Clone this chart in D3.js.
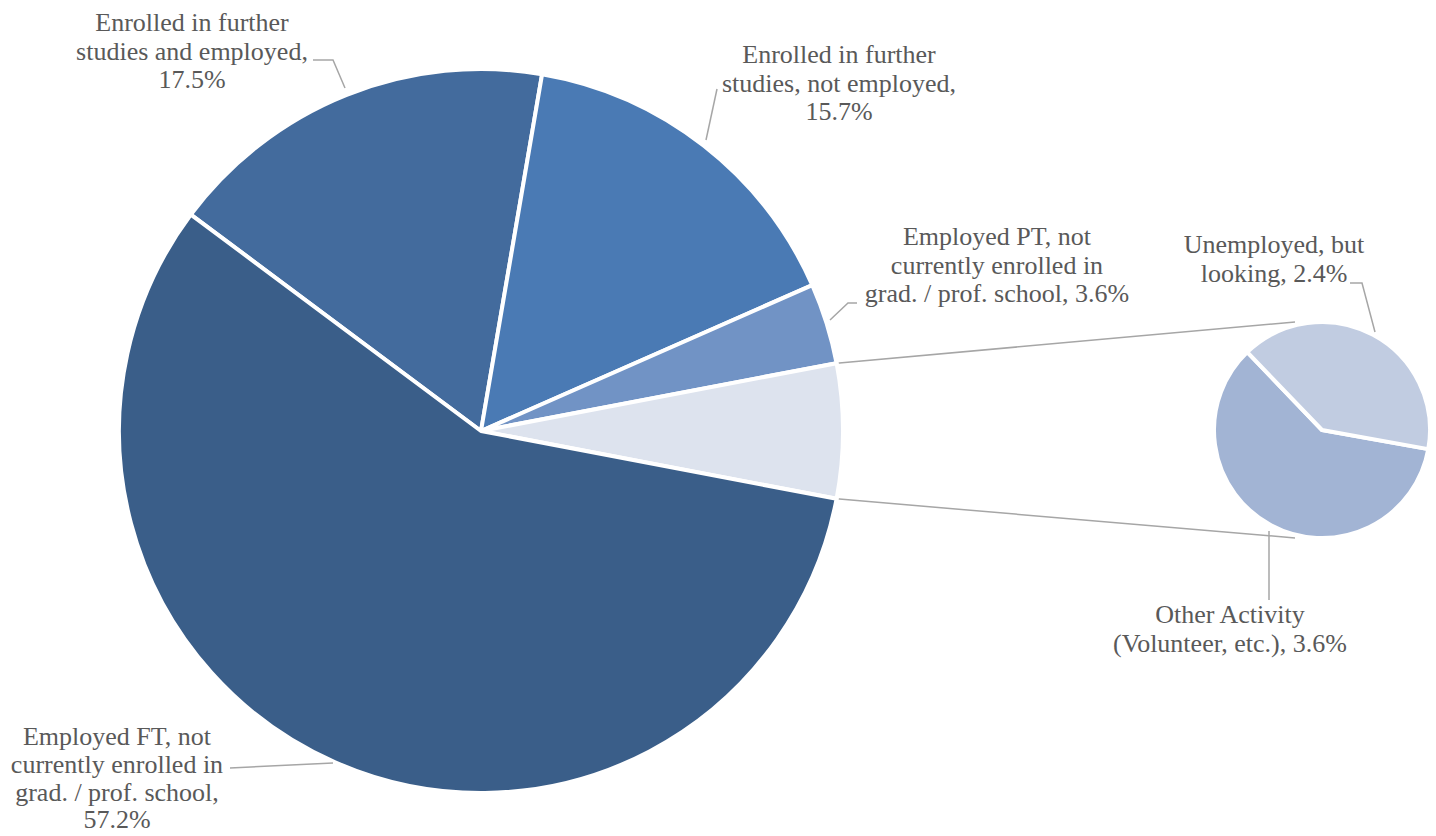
<!DOCTYPE html>
<html>
<head>
<meta charset="utf-8">
<script src="https://cdn.jsdelivr.net/npm/d3@7"></script>
<style>
  html, body { margin: 0; padding: 0; background: #ffffff; }
  svg { display: block; }
  text { font-family: "Liberation Serif", "Times New Roman", serif; fill: #595959; }
</style>
</head>
<body>
<svg id="chart" width="1436" height="836"></svg>
<script>
// ---- data ----
const mainCategories = [
  "Enrolled in further studies and employed",
  "Enrolled in further studies, not employed",
  "Employed PT, not currently enrolled in grad. / prof. school",
  "Other",
  "Employed FT, not currently enrolled in grad. / prof. school"
];
const secondaryCategories = [
  "Other Activity (Volunteer, etc.)",
  "Unemployed, but looking"
];
const secondaryValues = [3.6, 2.4];
const mainValues = [17.5, 15.7, 3.6, d3.sum(secondaryValues), 57.2];

const mainLabelLines = [
  ["Enrolled in further", "studies and employed,", "17.5%"],
  ["Enrolled in further", "studies, not employed,", "15.7%"],
  ["Employed PT, not", "currently enrolled in", "grad. / prof. school, 3.6%"],
  null,
  ["Employed FT, not", "currently enrolled in", "grad. / prof. school,", "57.2%"]
];
const secondaryLabelLines = [
  ["Other Activity", "(Volunteer, etc.), 3.6%"],
  ["Unemployed, but", "looking, 2.4%"]
];

// ---- styles / layout ----
const mainColors = ["#436b9d", "#4a7ab4", "#7193c5", "#dde3ee", "#3a5e89"];
const secondaryColors = ["#a2b4d4", "#c1cce1"];
const fontSize = 26;
const lineH = 28.7;

const svg = d3.select("#chart");
const main = { cx: 481, cy: 431, r: 362 };
const sec = { cx: 1322, cy: 430, r: 108 };
const deg = Math.PI / 180;

// main pie: "Other" slice centered on the right-hand horizontal
const otherIdx = 3;
const total = d3.sum(mainValues);
const before = d3.sum(mainValues.slice(0, otherIdx));
const startMain = Math.PI / 2 - (before + mainValues[otherIdx] / 2) / total * 2 * Math.PI;
const pieMain = d3.pie().sort(null).value(d => d).startAngle(startMain).endAngle(startMain + 2 * Math.PI);
const arcsMain = pieMain(mainValues);

const secStart = 100.2 * deg;
const pieSec = d3.pie().sort(null).value(d => d).startAngle(secStart).endAngle(secStart + 2 * Math.PI);
const arcsSec = pieSec(secondaryValues);

const pt = (c, a, r) => [c.cx + r * Math.sin(a), c.cy - r * Math.cos(a)];

// connector lines (drawn beneath)
const lineColor = "#a6a6a6";
const oArc = arcsMain[otherIdx];
const conn = svg.append("g").attr("stroke", lineColor).attr("stroke-width", 1.5).attr("fill", "none");
conn.append("path").attr("d", d3.line()([pt(main, oArc.startAngle, main.r), [sec.cx - sec.r * 0.25, sec.cy - sec.r]]));
conn.append("path").attr("d", d3.line()([pt(main, oArc.endAngle, main.r), [sec.cx - sec.r * 0.25, sec.cy + sec.r]]));

const arcMain = d3.arc().innerRadius(0).outerRadius(main.r);
svg.append("g").attr("transform", `translate(${main.cx},${main.cy})`)
  .selectAll("path").data(arcsMain).join("path")
  .attr("d", arcMain)
  .attr("fill", (d, i) => mainColors[i])
  .attr("stroke", "#ffffff").attr("stroke-width", 4).attr("stroke-linejoin", "round");

const arcSec = d3.arc().innerRadius(0).outerRadius(sec.r);
svg.append("g").attr("transform", `translate(${sec.cx},${sec.cy})`)
  .selectAll("path").data(arcsSec).join("path")
  .attr("d", arcSec)
  .attr("fill", (d, i) => secondaryColors[i])
  .attr("stroke", "#ffffff").attr("stroke-width", 4).attr("stroke-linejoin", "round");

// leader lines
const leaders = [
  [[313, 60], [333, 60], [345, 88]],
  [[717, 89], [706, 140]],
  [[857, 303], [848, 303], [830, 320]],
  [[1350, 283], [1362, 283], [1375, 332]],
  [[1269, 531], [1269, 600]],
  [[230, 768], [333, 763]]
];
const lg = svg.append("g").attr("stroke", lineColor).attr("stroke-width", 1.5).attr("fill", "none");
leaders.forEach(p => lg.append("path").attr("d", d3.line()(p)));

// labels
const labelPos = [
  { lines: mainLabelLines[0], x: 192, y: 31, h: lineH },
  { lines: mainLabelLines[1], x: 839, y: 63, h: lineH },
  { lines: mainLabelLines[2], x: 997, y: 245, h: lineH },
  { lines: secondaryLabelLines[1], x: 1274, y: 253, h: lineH },
  { lines: secondaryLabelLines[0], x: 1230, y: 623, h: lineH },
  { lines: mainLabelLines[4], x: 117, y: 745, h: 27.8 }
];
labelPos.forEach(l => {
  const t = svg.append("text").attr("text-anchor", "middle").attr("font-size", fontSize);
  l.lines.forEach((s, i) => t.append("tspan").attr("x", l.x).attr("y", l.y + i * l.h).text(s));
});
</script>
</body>
</html>
